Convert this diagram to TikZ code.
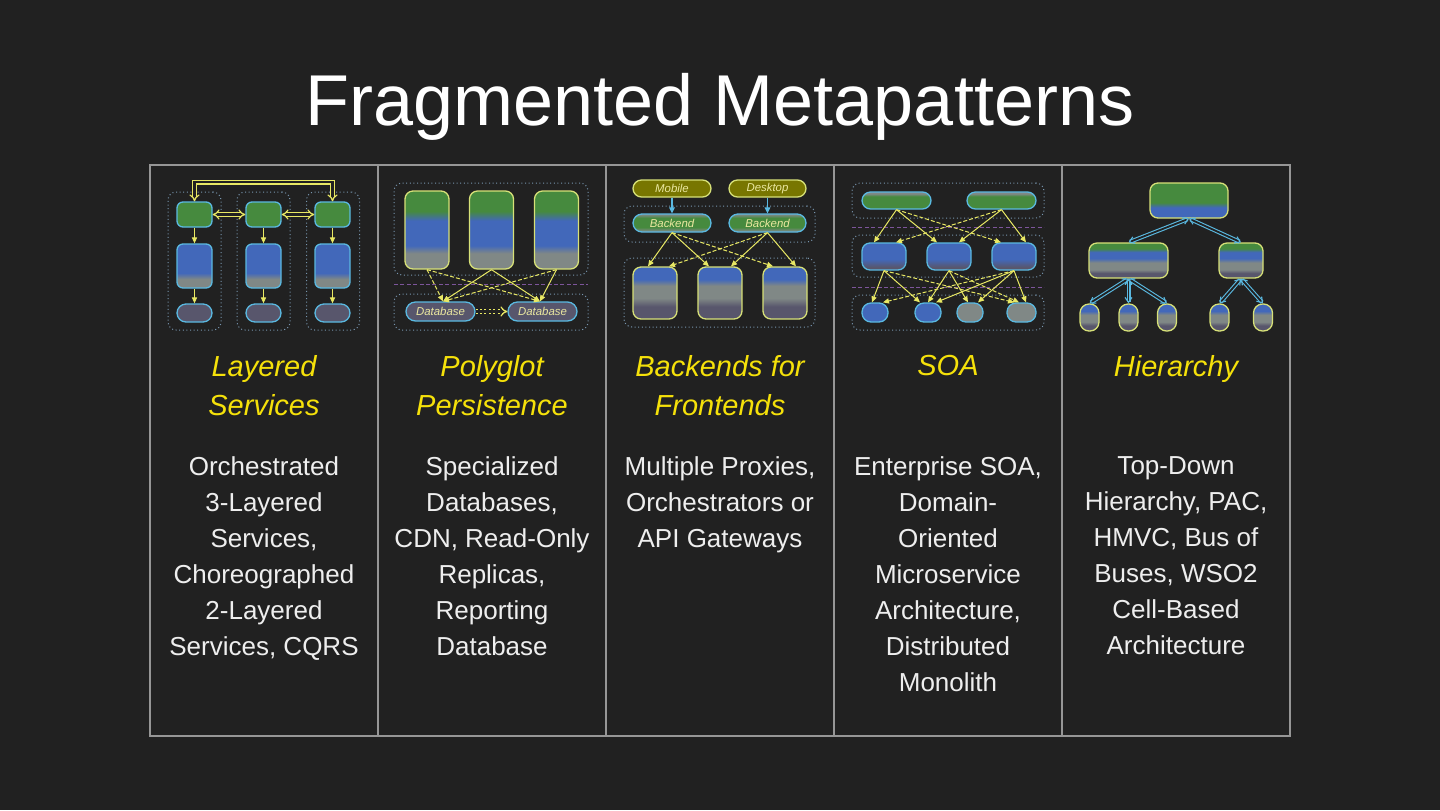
\documentclass[tikz,border=0pt]{standalone}
\usepackage{fontspec}
\setmainfont{Liberation Sans}
\usetikzlibrary{arrows.meta}
\definecolor{bgC}{RGB}{33,33,33}
\definecolor{gridC}{RGB}{150,150,150}
\definecolor{headC}{RGB}{245,225,10}
\definecolor{txtC}{RGB}{238,238,238}
\definecolor{grnC}{RGB}{70,138,62}
\definecolor{bluC}{RGB}{66,104,186}
\definecolor{gryC}{RGB}{128,136,134}
\definecolor{dgrC}{RGB}{88,86,108}
\definecolor{cyC}{RGB}{90,185,225}
\definecolor{pyC}{RGB}{215,225,120}
\definecolor{arrY}{RGB}{232,232,100}
\definecolor{contC}{RGB}{120,150,175}
\definecolor{purC}{RGB}{125,85,155}
\definecolor{olvC}{RGB}{120,118,0}
\definecolor{smallT}{RGB}{235,232,160}
\pgfdeclareverticalshading{shBG}{100bp}{color(0bp)=(gryC); color(35bp)=(gryC); color(42bp)=(bluC); color(100bp)=(bluC)}
\pgfdeclareverticalshading{shGBG}{100bp}{color(0bp)=(gryC); color(35bp)=(gryC); color(40bp)=(bluC); color(56bp)=(bluC); color(62bp)=(grnC); color(100bp)=(grnC)}
\pgfdeclareverticalshading{shBGD}{100bp}{color(0bp)=(dgrC); color(37bp)=(dgrC); color(45bp)=(gryC); color(57bp)=(gryC); color(63bp)=(bluC); color(100bp)=(bluC)}
\pgfdeclareverticalshading{shBack}{100bp}{color(0bp)=(gryC); color(28bp)=(gryC); color(38bp)=(grnC); color(64bp)=(grnC); color(74bp)=(gryC); color(100bp)=(gryC)}
\pgfdeclareverticalshading{shSoaT}{100bp}{color(0bp)=(grnC); color(62bp)=(grnC); color(70bp)=(gryC); color(100bp)=(gryC)}
\pgfdeclareverticalshading{shSoaM}{100bp}{color(0bp)=(dgrC); color(30bp)=(dgrC); color(45bp)=(bluC); color(100bp)=(bluC)}
\pgfdeclareverticalshading{shHT}{100bp}{color(0bp)=(bluC); color(40bp)=(bluC); color(47bp)=(grnC); color(100bp)=(grnC)}
\pgfdeclareverticalshading{shHM}{100bp}{color(0bp)=(dgrC); color(32bp)=(dgrC); color(37bp)=(gryC); color(47bp)=(gryC); color(53bp)=(bluC); color(62bp)=(bluC); color(67bp)=(grnC); color(100bp)=(grnC)}
\pgfdeclareverticalshading{shHL}{100bp}{color(0bp)=(dgrC); color(35bp)=(dgrC); color(42bp)=(gryC); color(55bp)=(gryC); color(62bp)=(bluC); color(100bp)=(bluC)}
\tikzset{
  bxs/.style 2 args={inner sep=0pt, line width=0.65pt, minimum width=#1*0.5pt, minimum height=#2*0.5pt, rounded corners=3pt},
  cont/.style 2 args={bxs={#1}{#2}, draw=contC, line width=0.5pt, dash pattern=on 0.5pt off 1.3pt, rounded corners=4pt},
  ya/.style={draw=arrY, line width=0.5pt, -{Triangle[length=3pt,width=2.6pt]}},
  ca/.style={draw=cyC, line width=0.6pt, -{Triangle[length=3pt,width=2.8pt]}},
  dsh/.style={dash pattern=on 2pt off 1pt},
  dblY/.style={draw=arrY, double=bgC, double distance=1.1pt, line width=0.6pt, {Implies}-{Implies}},
  dblC/.style={draw=cyC, double=bgC, double distance=0.9pt, line width=0.55pt, {Straight Barb[length=2.5pt,width=3.5pt]}-{Straight Barb[length=2.5pt,width=3.5pt]}},
  sep/.style={draw=purC, line width=0.5pt, dash pattern=on 2pt off 1.2pt},
  small/.style={font=\fontsize{5.7}{6}\selectfont\itshape, text=smallT},
  head/.style={font=\fontsize{14.5}{19.5}\selectfont\itshape, text=headC, align=center, inner sep=0pt, anchor=north},
  body/.style={font=\fontsize{13}{18}\selectfont, text=txtC, align=center, inner sep=0pt, anchor=north},
}
\begin{document}
\begin{tikzpicture}[x=0.5pt, y=-0.5pt]
\fill[bgC] (0,0) rectangle (1440,810);
\useasboundingbox (0,0) rectangle (1440,810);
% title
\node[font=\fontsize{36}{40}\selectfont, text=white, anchor=base, inner sep=0pt] (title) at (720,125) {Fragmented Metapatterns};
% grid
\draw[gridC, line width=0.75pt] (150,165) rectangle (1290,736);
\foreach \gx in {378,606,834,1062} \draw[gridC, line width=0.75pt] (\gx,165) -- (\gx,736);

% ---------- Layered Services ----------
\node[cont={53}{138}] (c1a) at (194.5,261) {};
\node[cont={53}{138}] (c1b) at (263.5,261) {};
\node[cont={53}{138}] (c1c) at (333,261) {};
\node[bxs={35}{25}, draw=cyC, fill=grnC] (g1) at (194.5,214.5) {};
\node[bxs={35}{25}, draw=cyC, fill=grnC] (g2) at (263.5,214.5) {};
\node[bxs={35}{25}, draw=cyC, fill=grnC] (g3) at (332.5,214.5) {};
\node[bxs={35}{44}, draw=cyC, shade, shading=shBG] (bl1) at (194.5,266) {};
\node[bxs={35}{44}, draw=cyC, shade, shading=shBG] (bl2) at (263.5,266) {};
\node[bxs={35}{44}, draw=cyC, shade, shading=shBG] (bl3) at (332.5,266) {};
\node[bxs={35}{18}, draw=cyC, fill=dgrC, rounded corners=4.5pt] (d1) at (194.5,313) {};
\node[bxs={35}{18}, draw=cyC, fill=dgrC, rounded corners=4.5pt] (d2) at (263.5,313) {};
\node[bxs={35}{18}, draw=cyC, fill=dgrC, rounded corners=4.5pt] (d3) at (332.5,313) {};
\foreach \i in {1,2,3} {
  \draw[ya] (g\i.south) -- (bl\i.north);
  \draw[ya] (bl\i.south) -- (d\i.north);
}
\draw[dblY] (g1.east) -- (g2.west);
\draw[dblY] (g2.east) -- (g3.west);
\draw[dblY] (g1.north) -- ++(0,-19) -| (g3.north);

% ---------- Polyglot Persistence ----------
\node[cont={194}{92}] (c2a) at (491,229) {};
\node[cont={194}{36}] (c2b) at (491,312) {};
\draw[sep] (394,284) -- (588,284);
\node[bxs={44}{78}, draw=pyC, shade, shading=shGBG, rounded corners=4pt] (p1) at (427,230) {};
\node[bxs={44}{78}, draw=pyC, shade, shading=shGBG, rounded corners=4pt] (p2) at (491.5,230) {};
\node[bxs={44}{78}, draw=pyC, shade, shading=shGBG, rounded corners=4pt] (p3) at (556.5,230) {};
\node[bxs={69}{19}, draw=cyC, fill=dgrC, rounded corners=4.75pt, small] (db1) at (440.5,311.5) {Database};
\node[bxs={69}{19}, draw=cyC, fill=dgrC, rounded corners=4.75pt, small] (db2) at (542.5,311.5) {Database};
\draw[ya, dsh] (p1.south) -- ([xshift=1.25pt]db1.north);
\draw[ya, dsh] (p1.south) -- ([xshift=-1.25pt]db2.north);
\draw[ya] (p2.south) -- ([xshift=1.25pt]db1.north);
\draw[ya] (p2.south) -- ([xshift=-1.25pt]db2.north);
\draw[ya, dsh] (p3.south) -- ([xshift=1.25pt]db1.north);
\draw[ya] (p3.south) -- ([xshift=-1.25pt]db2.north);
\draw[dblY, dash pattern=on 1pt off 1.2pt, -{Implies}] (db1.east) -- (db2.west);

% ---------- Backends for Frontends ----------
\node[cont={191}{36}] (c3a) at (719.5,224) {};
\node[cont={191}{69}] (c3b) at (719.5,292.5) {};
\node[bxs={78}{17}, draw=pyC, fill=olvC, rounded corners=4.25pt, small] (mob) at (672,188.5) {Mobile};
\node[bxs={77}{17}, draw=pyC, fill=olvC, rounded corners=4.25pt, small] (desk) at (767.5,188.5) {Desktop};
\node[bxs={78}{18}, draw=cyC, shade, shading=shBack, rounded corners=4.5pt, small] (be1) at (672,223) {Backend};
\node[bxs={77}{18}, draw=cyC, shade, shading=shBack, rounded corners=4.5pt, small] (be2) at (767.5,223) {Backend};
\node[bxs={44}{52}, draw=pyC, shade, shading=shBGD, rounded corners=4pt] (bx1) at (655,293) {};
\node[bxs={44}{52}, draw=pyC, shade, shading=shBGD, rounded corners=4pt] (bx2) at (720,293) {};
\node[bxs={44}{52}, draw=pyC, shade, shading=shBGD, rounded corners=4pt] (bx3) at (785,293) {};
\draw[ca] (mob.south) -- (be1.north);
\draw[ca] (desk.south) -- (be2.north);
\draw[ya] (be1.south) -- ([xshift=-3.5pt]bx1.north);
\draw[ya] (be1.south) -- ([xshift=-5.5pt]bx2.north);
\draw[ya, dsh] (be1.south) -- ([xshift=-6pt]bx3.north);
\draw[ya, dsh] (be2.south) -- ([xshift=7pt]bx1.north);
\draw[ya] (be2.south) -- ([xshift=5.5pt]bx2.north);
\draw[ya] (be2.south) -- ([xshift=5.5pt]bx3.north);

% ---------- SOA ----------
\node[cont={192}{35}] (c4a) at (948,200.5) {};
\node[cont={192}{42}] (c4b) at (948,256) {};
\node[cont={192}{35}] (c4c) at (948,312.5) {};
\draw[sep] (852,227) -- (1044,227);
\draw[sep] (852,287) -- (1044,287);
\node[bxs={69}{17}, draw=cyC, shade, shading=shSoaT, rounded corners=4.25pt] (t1) at (896.5,200.5) {};
\node[bxs={69}{17}, draw=cyC, shade, shading=shSoaT, rounded corners=4.25pt] (t2) at (1001.5,200.5) {};
\node[bxs={44}{27}, draw=cyC, shade, shading=shSoaM, rounded corners=4pt] (m1) at (884,256.5) {};
\node[bxs={44}{27}, draw=cyC, shade, shading=shSoaM, rounded corners=4pt] (m2) at (949,256.5) {};
\node[bxs={44}{27}, draw=cyC, shade, shading=shSoaM, rounded corners=4pt] (m3) at (1014,256.5) {};
\node[bxs={26}{19}, draw=cyC, fill=bluC, rounded corners=4.5pt] (b1) at (875,312.5) {};
\node[bxs={26}{19}, draw=cyC, fill=bluC, rounded corners=4.5pt] (b2) at (928,312.5) {};
\node[bxs={26}{19}, draw=cyC, fill=gryC, rounded corners=4.5pt] (b3) at (970,312.5) {};
\node[bxs={29}{19}, draw=cyC, fill=gryC, rounded corners=4.5pt] (b4) at (1021.5,312.5) {};
\draw[ya] (t1.south) -- ([xshift=-5pt]m1.north);
\draw[ya] (t1.south) -- ([xshift=-6pt]m2.north);
\draw[ya, dsh] (t1.south) -- ([xshift=-6.5pt]m3.north);
\draw[ya, dsh] (t2.south) -- ([xshift=6pt]m1.north);
\draw[ya] (t2.south) -- ([xshift=5pt]m2.north);
\draw[ya] (t2.south) -- ([xshift=6pt]m3.north);
\draw[ya] (m1.south) -- ([xshift=-1.5pt]b1.north);
\draw[ya] (m1.south) -- ([xshift=-4pt]b2.north);
\draw[ya, dsh] (m1.south) -- ([xshift=-3.75pt]b4.north);
\draw[ya] (m2.south) -- (b2.north);
\draw[ya] (m2.south) -- ([xshift=-1pt]b3.north);
\draw[ya, dsh] (m2.south) -- ([xshift=-1.25pt]b4.north);
\draw[ya, dsh] (m3.south) -- ([xshift=4pt]b1.north);
\draw[ya] (m3.south) -- ([xshift=4pt]b2.north);
\draw[ya] (m3.south) -- ([xshift=4pt]b3.north);
\draw[ya] (m3.south) -- ([xshift=2.25pt]b4.north);

% ---------- Hierarchy ----------
\node[bxs={78}{35}, draw=pyC, shade, shading=shHT, rounded corners=4pt] (h0) at (1189,200.5) {};
\node[bxs={79}{35}, draw=pyC, shade, shading=shHM, rounded corners=4pt] (h1) at (1128.5,260.5) {};
\node[bxs={44}{35}, draw=pyC, shade, shading=shHM, rounded corners=4pt] (h2) at (1241,260.5) {};
\node[bxs={19}{27}, draw=pyC, shade, shading=shHL, rounded corners=4.5pt] (l1) at (1089.5,317.5) {};
\node[bxs={19}{27}, draw=pyC, shade, shading=shHL, rounded corners=4.5pt] (l2) at (1128.5,317.5) {};
\node[bxs={19}{27}, draw=pyC, shade, shading=shHL, rounded corners=4.5pt] (l3) at (1167,317.5) {};
\node[bxs={19}{27}, draw=pyC, shade, shading=shHL, rounded corners=4.5pt] (l4) at (1219.5,317.5) {};
\node[bxs={19}{27}, draw=pyC, shade, shading=shHL, rounded corners=4.5pt] (l5) at (1263,317.5) {};
\draw[dblC] (h0.south) -- (h1.north);
\draw[dblC] (h0.south) -- (h2.north);
\draw[dblC] (h1.south) -- (l1.north);
\draw[dblC] (h1.south) -- (l2.north);
\draw[dblC] (h1.south) -- (l3.north);
\draw[dblC] (h2.south) -- (l4.north);
\draw[dblC] (h2.south) -- (l5.north);

% ---------- headings ----------
\node[head] (n1) at (264,355) {Layered\\Services};
\node[head] (n2) at (492,355) {Polyglot\\Persistence};
\node[head] (n3) at (720,355) {Backends for\\Frontends};
\node[head] (n4) at (948,355) {SOA};
\node[head] (n5) at (1176,355) {Hierarchy};
% ---------- descriptions ----------
\node[body] (t1d) at (264,456) {Orchestrated\\3-Layered\\Services,\\Choreographed\\2-Layered\\Services, CQRS};
\node[body] (t2d) at (492,456) {Specialized\\Databases,\\CDN, Read-Only\\Replicas,\\Reporting\\Database};
\node[body] (t3d) at (720,456) {Multiple Proxies,\\Orchestrators or\\API Gateways};
\node[body] (t4d) at (948,456) {Enterprise SOA,\\Domain-\\Oriented\\Microservice\\Architecture,\\Distributed\\Monolith};
\node[body] (t5d) at (1176,456) {Top-Down\\Hierarchy, PAC,\\HMVC, Bus of\\Buses, WSO2\\Cell-Based\\Architecture};
\end{tikzpicture}
\end{document}
